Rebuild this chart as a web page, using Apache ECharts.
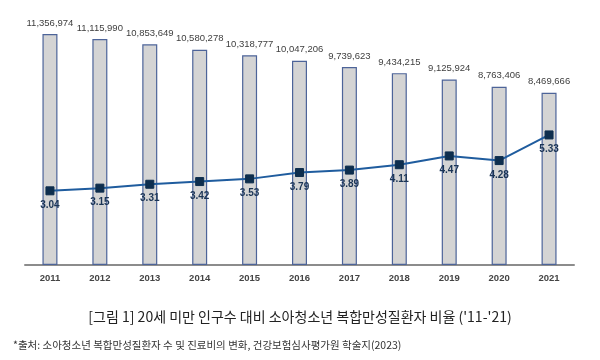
<!DOCTYPE html>
<html><head><meta charset="utf-8">
<script src="https://cdn.jsdelivr.net/npm/echarts@6/dist/echarts.min.js"></script>
<style>html,body{margin:0;padding:0;background:#fff}#c{width:600px;height:360px}</style>
</head><body><div id="c"></div>
<script>
const categories = ['2011','2012','2013','2014','2015','2016','2017','2018','2019','2020','2021'];
const population = [11356974,11115990,10853649,10580278,10318777,10047206,9739623,9434215,9125924,8763406,8469666];
const ratio = [3.04,3.15,3.31,3.42,3.53,3.79,3.89,4.11,4.47,4.28,5.33];
const titleText = "[그림 1] 20세 미만 인구수 대비 소아청소년 복합만성질환자 비율 ('11-'21)";
const sourceText = "*출처: 소아청소년 복합만성질환자 수 및 진료비의 변화, 건강보험심사평가원 학술지(2023)";

const chart = echarts.init(document.getElementById('c'), null, {renderer:'canvas'});
chart.setOption({
  animation:false,
  backgroundColor:'#fff',
  title:[
    {text:titleText,left:'center',top:305,textStyle:{fontFamily:'Noto Sans CJK KR',fontSize:14,fontWeight:'normal',color:'#222'}},
    {text:sourceText,left:8,top:335,textStyle:{fontFamily:'Noto Sans CJK KR',fontSize:10.5,fontWeight:'normal',color:'#333'}}
  ],
  grid:{left:25,right:26,top:21,bottom:95,containLabel:false},
  xAxis:{type:'category',data:categories,
    axisLine:{lineStyle:{color:'#8c8c8c',width:2}},
    axisTick:{show:false},
    axisLabel:{color:'#444',fontWeight:'bold',fontSize:9.5,fontFamily:'Liberation Sans',margin:8}},
  yAxis:[
    {type:'value',min:0,max:12000000,show:false,splitLine:{show:false}},
    {type:'value',min:0,max:10,show:false,splitLine:{show:false}}
  ],
  series:[
    {type:'bar',data:population,yAxisIndex:0,barWidth:15,
     itemStyle:{color:'#d4d4d4',borderColor:'#4d6499',borderWidth:1.2},
     label:{show:true,position:'top',distance:6,color:'#404040',fontSize:9.5,fontFamily:'Liberation Sans',
       formatter:p=>p.value.toLocaleString('en-US')}},
    {type:'line',data:ratio,yAxisIndex:1,symbol:'rect',symbolSize:8,
     lineStyle:{color:'#1f5c9e',width:2},
     itemStyle:{color:'#0e2e4e',borderColor:'#0e2e4e'},
     label:{show:true,position:'bottom',distance:5,color:'#1b3556',fontSize:10,fontWeight:'bold',fontFamily:'Liberation Sans',
       formatter:p=>p.value.toFixed(2)}}
  ]
});
</script></body></html>
